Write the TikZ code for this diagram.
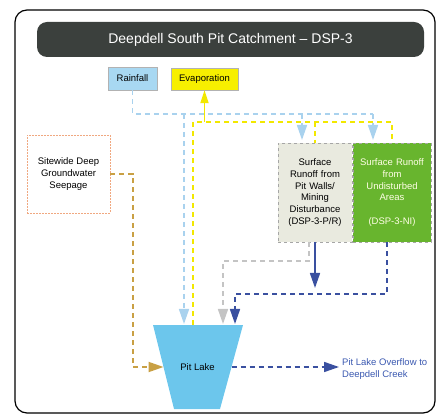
\documentclass[tikz,border=0pt]{standalone}
\usepackage{fontspec}
\setmainfont{Liberation Sans}
\usetikzlibrary{arrows.meta}
\definecolor{titlebg}{HTML}{3B403D}
\definecolor{rainfill}{HTML}{A8D8F2}
\definecolor{rainline}{HTML}{A9D2EE}
\definecolor{evapfill}{HTML}{F7EF00}
\definecolor{yelline}{HTML}{F2E800}
\definecolor{goldline}{HTML}{C9A044}
\definecolor{grayline}{HTML}{C4C4C4}
\definecolor{dblue}{HTML}{3A50A0}
\definecolor{boxbeige}{HTML}{E9EADF}
\definecolor{boxgreen}{HTML}{68B52E}
\definecolor{pitfill}{HTML}{6CC6EC}
\definecolor{overtext}{HTML}{3A58B0}
\definecolor{seepline}{HTML}{F0A880}
\begin{document}
\begin{tikzpicture}[x=1pt,y=-1pt,
  txt/.style={font=\fontsize{9.5}{11.7}\selectfont, align=center},
  smallbox/.style={txt, inner sep=1pt, draw=gray!60, line width=0.5pt},
  bigbox/.style={txt, inner sep=1pt, draw=gray!70, dashed, line width=0.5pt, minimum width=70pt, minimum height=99pt, text width=72pt},
  flow/.style={line width=1.6pt, dash pattern=on 5pt off 4pt},
  tip/.style={-{Triangle[length=15pt,width=10pt]}},
  rainflow/.style={flow, rainline},
  yelflow/.style={flow, yelline},
]
\useasboundingbox (0,0) rectangle (444,419);
% frame
\draw[line width=1.2pt, rounded corners=12pt] (15,10) rectangle (435,413);
% title
\node[fill=titlebg, rounded corners=10pt, minimum width=387pt, minimum height=35pt, text=white, font=\fontsize{14}{16}\selectfont] (title) at (230.5,39.5) {Deepdell South Pit Catchment -- DSP-3};
% top boxes
\node[smallbox, fill=rainfill, minimum width=49pt, minimum height=23pt] (rainfall) at (132.5,78.5) {Rainfall};
\node[smallbox, fill=evapfill, minimum width=67pt, minimum height=22pt] (evap) at (204.5,79) {Evaporation};
% pit lake
\coordinate (plTL) at (153,325);
\coordinate (plTR) at (243,325);
\coordinate (plBR) at (220,409);
\coordinate (plBL) at (174,409);
\fill[pitfill] (plTL) -- (plTR) -- (plBR) -- (plBL) -- cycle;
\node[txt] (pitlake) at (197.5,367) {Pit Lake};
\coordinate (plL) at (163.5,367);
\coordinate (plR) at (231.5,367);
\coordinate (plInRain) at (184,325);
\coordinate (plInYel) at (193,325);
\coordinate (plInGray) at (223,325);
\coordinate (plInBlue) at (235,325);
% junctions
\coordinate (rj0) at (184,114);
\coordinate (rj1) at (302,114);
\coordinate (rj2) at (373,114);
\coordinate (yj1) at (315,122);
\coordinate (yj2) at (392,122);
\coordinate (yE) at (204.5,122);
% rainfall lines
\draw[rainflow] (rainfall.south) |- (rj2);
\draw[rainflow, tip, shorten >=3pt] (rj1) -- (302,143);
\draw[rainflow, tip, shorten >=3pt] (rj2) -- (373,143);
\draw[rainflow, tip, shorten >=1pt] (rj0) -- (plInRain);
% yellow lines
\draw[yelflow, line width=1.9pt] (plInYel) |- (yj2) -- (392,143);
\draw[yelflow, line width=1.9pt] (yj1) -- (315,143);
\draw[yelline, line width=1.9pt, -{Triangle[length=13pt,width=8pt]}] (yE) -- (evap.south);
% runoff boxes
\node[bigbox, fill=boxbeige] (runpr) at (315,192.5) {Surface\\Runoff from\\Pit Walls/\\Mining\\Disturbance\\(DSP-3-P/R)};
\node[bigbox, fill=boxgreen, minimum width=76pt, text width=76pt, text=white!90!yellow] (runni) at (392,192.5) {Surface Runoff\\from\\Undisturbed\\Areas\\[11.7pt](DSP-3-NI)};
% seepage box
\node[txt, draw=seepline, dashed, line width=0.5pt, dash pattern=on 2pt off 1pt, fill=white, minimum width=83pt, minimum height=78pt] (seep) at (68.5,174) {Sitewide Deep\\Groundwater\\Seepage};
% seepage flow
\draw[flow, goldline, line width=1.9pt, tip] (seep.east) -| (133,367) -- (plL);
% gray flow
\draw[flow, grayline, tip, shorten >=1pt] ([xshift=-6pt]runpr.south) |- (223,261) -- (plInGray);
% dark blue solid
\draw[dblue, line width=1.6pt, tip] (runpr.south) -- (315,288);
% dark blue dashed
\draw[flow, dblue, tip, shorten >=1pt] ([xshift=-5pt]runni.south) |- (235,294) -- (plInBlue);
% overflow
\node[txt, align=left, text=overtext, anchor=west, inner sep=0pt] (overflow) at (342,369) {Pit Lake Overflow to\\Deepdell Creek};
\draw[flow, dblue, tip] (plR) -- (339,367);
\end{tikzpicture}
\end{document}
